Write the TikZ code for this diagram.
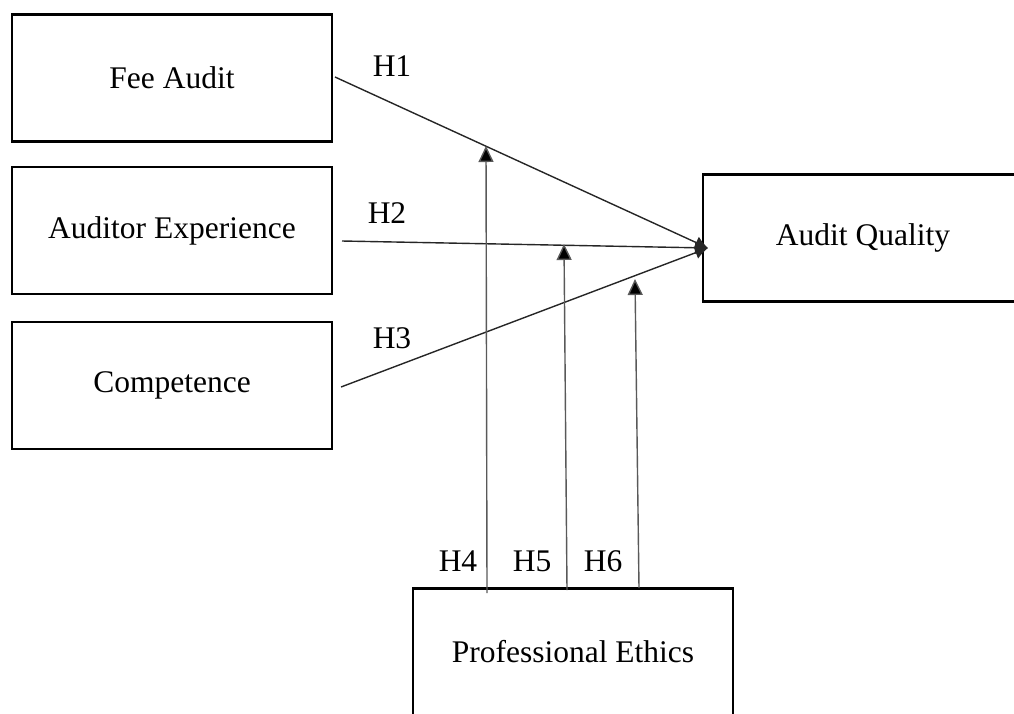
\documentclass[tikz,border=0pt]{standalone}
\usepackage{fontspec}
\setmainfont{Liberation Serif}
\usetikzlibrary{arrows.meta}
\begin{document}
\begin{tikzpicture}[x=1pt,y=-1pt,
  box/.style={draw,line width=2.4pt,minimum width=320pt,minimum height=127pt,inner sep=0pt,
    font=\fontsize{31.5}{38}\selectfont},
  hlab/.style={anchor=base,inner sep=0pt,font=\fontsize{31.5}{38}\selectfont},
  mainline/.style={draw=black!85,line width=1.4pt,-{Latex[length=13pt,width=13pt]}},
  modline/.style={draw=black!65,line width=1.4pt,-{Triangle[length=16pt,width=15pt,fill=black]}}]
\useasboundingbox (0,0) rectangle (1014,713);
\clip (0,0) rectangle (1014,713);
\node[box] (fee) at (172,78) {Fee Audit};
\node[box] (aud) at (172,230.5) {Auditor Experience};
\node[box] (com) at (172,385.5) {Competence};
\node[box] (aq) at (863,238) {Audit Quality};
\node[box] (pe) at (573,652) {Professional Ethics};
\coordinate (t) at (708,248);
\coordinate (s1) at (335,77);
\coordinate (s2) at (342,241);
\coordinate (s3) at (341,387);
\draw[mainline] (s1) -- (t);
\draw[mainline] (s2) -- (t);
\draw[mainline] (s3) -- (t);
\coordinate (b4) at (487,593);
\coordinate (b5) at (567,590);
\coordinate (b6) at (639,588);
\coordinate (e4) at (486,146);
\coordinate (e5) at (564,244);
\coordinate (e6) at (635,279);
\draw[modline] (b4) -- (e4);
\draw[modline] (b5) -- (e5);
\draw[modline] (b6) -- (e6);
\node[hlab] (h1) at (392,76) {H1};
\node[hlab] (h2) at (387,223) {H2};
\node[hlab] (h3) at (392,348) {H3};
\node[hlab] (h4) at (458,571) {H4};
\node[hlab] (h5) at (532,571) {H5};
\node[hlab] (h6) at (603,571) {H6};
\end{tikzpicture}
\end{document}
